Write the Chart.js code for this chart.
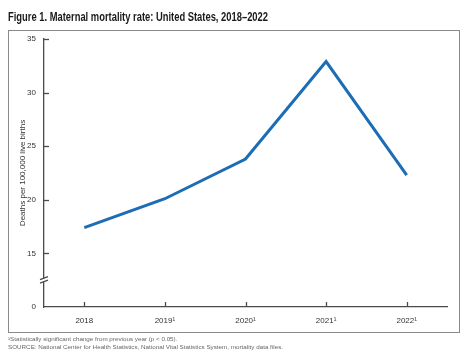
<!DOCTYPE html>
<html>
<head>
<meta charset="utf-8">
<script src="https://cdn.jsdelivr.net/npm/chart.js@4/dist/chart.umd.min.js"></script>
<style>
html,body{margin:0;padding:0;background:#fff;}
#wrap{width:468px;height:358px;position:relative;}
</style>
</head>
<body>
<div id="wrap"><canvas id="c" width="468" height="358"></canvas></div>
<script>
// ---- data ----
const categories = ['2018', '2019', '2020', '2021', '2022'];
const tickLabels = ['2018', '2019\u00B9', '2020\u00B9', '2021\u00B9', '2022\u00B9'];
const rates = [17.4, 20.1, 23.8, 32.9, 22.3];
const yTicks = [10, 15, 20, 25, 30, 35];          // 10 is shown as "0" (broken axis)
const yTickText = ['0', '15', '20', '25', '30', '35'];
const titleText = 'Figure 1. Maternal mortality rate: United States, 2018\u20132022';
const yTitle = 'Deaths per 100,000 live births';
const footnotes = [
  '\u00B9Statistically significant change from previous year (p < 0.05).',
  'SOURCE: National Center for Health Statistics, National Vital Statistics System, mortality data files.'
];

const AXIS = '#4a4a4a';
const FONT = "'Liberation Sans', Arial, sans-serif";

function drawScaled(ctx, txt, x, y, sx) {
  ctx.save();
  ctx.translate(x, y);
  ctx.scale(sx, 1);
  ctx.fillText(txt, 0, 0);
  ctx.restore();
}

const decor = {
  id: 'decor',
  beforeDraw(chart) {
    const ctx = chart.ctx;
    ctx.save();
    ctx.fillStyle = '#fff';
    ctx.fillRect(0, 0, chart.width, chart.height);
    ctx.strokeStyle = '#8a8a8a';
    ctx.lineWidth = 1;
    ctx.strokeRect(8.5, 30.5, 451, 302);
    ctx.fillStyle = '#1a1a1a';
    ctx.font = "bold 12px " + FONT;
    ctx.textBaseline = 'alphabetic';
    ctx.textAlign = 'left';
    drawScaled(ctx, titleText, 8, 21, 260 / ctx.measureText(titleText).width);
    ctx.fillStyle = '#666';
    ctx.font = "6px " + FONT;
    const sx = 275 / ctx.measureText(footnotes[1]).width;
    drawScaled(ctx, footnotes[0], 8, 341, sx);
    drawScaled(ctx, footnotes[1], 8, 349, sx);
    ctx.restore();
  },
  afterDraw(chart) {
    const ctx = chart.ctx;
    const xs = chart.scales.x, ys = chart.scales.y;
    const area = chart.chartArea;
    ctx.save();
    ctx.strokeStyle = AXIS;
    ctx.lineWidth = 1.3;
    yTicks.forEach(v => {
      if (v === 10) return;
      const py = Math.round(ys.getPixelForValue(v)) + 0.5;
      ctx.beginPath();
      ctx.moveTo(area.left, py);
      ctx.lineTo(area.left + 5, py);
      ctx.stroke();
    });
    categories.forEach((c, i) => {
      const px = Math.round(xs.getPixelForValue(i)) + 0.5;
      ctx.beginPath();
      ctx.moveTo(px, area.bottom);
      ctx.lineTo(px, area.bottom - 5);
      ctx.stroke();
    });
    const by = ys.getPixelForValue(12.5);
    const bx = area.left;
    ctx.fillStyle = '#fff';
    ctx.fillRect(bx - 2, by - 1.5, 4, 3);
    ctx.beginPath();
    ctx.moveTo(bx - 4, by - 0.5); ctx.lineTo(bx + 4, by - 3.5);
    ctx.moveTo(bx - 4, by + 3.0); ctx.lineTo(bx + 4, by + 0.0);
    ctx.stroke();
    ctx.restore();
  }
};

new Chart(document.getElementById('c'), {
  type: 'line',
  data: {
    labels: categories,
    datasets: [{
      data: rates,
      borderColor: '#1c6db5',
      borderWidth: 3,
      pointRadius: 0,
      tension: 0,
      fill: false
    }]
  },
  options: {
    responsive: false,
    animation: false,
    devicePixelRatio: 1,
    layout: { padding: { top: 39, right: 21, left: 0, bottom: 0 } },
    plugins: { legend: { display: false }, tooltip: { enabled: false } },
    scales: {
      x: {
        offset: true,
        grid: { display: false, drawTicks: false },
        border: { display: true, color: AXIS, width: 1.3 },
        ticks: {
          color: '#333',
          padding: 9,
          maxRotation: 0,
          font: { family: FONT, size: 8 },
          callback: (v, i) => tickLabels[i]
        },
        afterFit(s) { s.height = 51; }
      },
      y: {
        min: 10, max: 35,
        grid: { display: false, drawTicks: false },
        border: { display: true, color: AXIS, width: 1.3 },
        afterBuildTicks(s) { s.ticks = yTicks.map(v => ({ value: v })); },
        ticks: {
          color: '#333',
          padding: 8,
          font: { family: FONT, size: 8 },
          callback: (v) => yTickText[yTicks.indexOf(v)]
        },
        title: {
          display: true,
          text: yTitle,
          color: '#333',
          font: { family: FONT, size: 8 },
          padding: { top: 18, bottom: 0 }
        },
        afterFit(s) { s.width = 44; }
      }
    }
  },
  plugins: [decor]
});
</script>
</body>
</html>
